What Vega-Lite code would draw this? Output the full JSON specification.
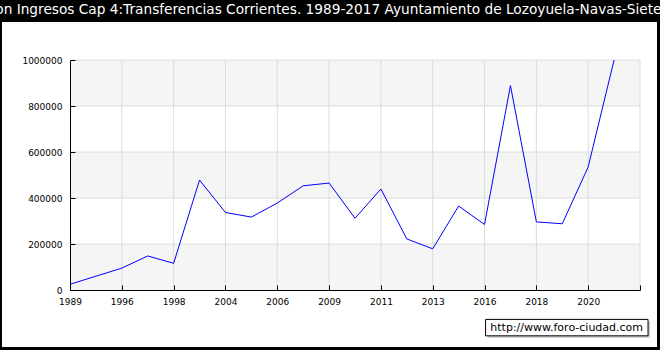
{
  "$schema": "https://vega.github.io/schema/vega-lite/v6.json",
  "autosize": {"type": "none"},
  "width": 655,
  "height": 325,
  "padding": {"left": 2, "top": 22, "right": 3, "bottom": 3},
  "background": "black",
  "config": {"view": {"fill": "white", "stroke": null}, "font": "DejaVu Sans"},
  "title": {
    "text": "Evolucion Ingresos Cap 4:Transferencias Corrientes. 1989-2017 Ayuntamiento de Lozoyuela-Navas-Sieteiglesias",
    "color": "white",
    "fontSize": 13.7,
    "fontWeight": "normal",
    "font": "DejaVu Sans",
    "anchor": "middle",
    "offset": 5
  },
  "datasets": {
    "series": [
      {"i": 0, "year": 1989, "value": 25000},
      {"i": 1, "year": 1995, "value": 60000},
      {"i": 2, "year": 1996, "value": 95000},
      {"i": 3, "year": 1997, "value": 148000},
      {"i": 4, "year": 1998, "value": 116000},
      {"i": 5, "year": 2003, "value": 478000},
      {"i": 6, "year": 2004, "value": 337000},
      {"i": 7, "year": 2005, "value": 317000},
      {"i": 8, "year": 2006, "value": 378000},
      {"i": 9, "year": 2008, "value": 453000},
      {"i": 10, "year": 2009, "value": 465000},
      {"i": 11, "year": 2010, "value": 312000},
      {"i": 12, "year": 2011, "value": 439000},
      {"i": 13, "year": 2012, "value": 222000},
      {"i": 14, "year": 2013, "value": 179000},
      {"i": 15, "year": 2015, "value": 365000},
      {"i": 16, "year": 2016, "value": 285000},
      {"i": 17, "year": 2017, "value": 889000},
      {"i": 18, "year": 2018, "value": 296000},
      {"i": 19, "year": 2019, "value": 288000},
      {"i": 20, "year": 2020, "value": 535000},
      {"i": 21, "year": 2021, "value": 1000000}
    ],
    "bands": [
      {"lo": 0, "hi": 200000},
      {"lo": 400000, "hi": 600000},
      {"lo": 800000, "hi": 1000000}
    ],
    "vgrid": [
      {"g": 2}, {"g": 4}, {"g": 6}, {"g": 8}, {"g": 10}, {"g": 12},
      {"g": 14}, {"g": 16}, {"g": 18}, {"g": 20}, {"g": 22}
    ],
    "hgrid": [
      {"v": 200000}, {"v": 400000}, {"v": 600000}, {"v": 800000}, {"v": 1000000}
    ],
    "credit": [{"label": "http://www.foro-ciudad.com"}]
  },
  "layer": [
    {
      "data": {"name": "bands"},
      "mark": {"type": "rect", "fill": "#f5f5f5"},
      "encoding": {
        "x": {
          "datum": 0,
          "type": "quantitative",
          "scale": {"domain": [0, 22], "range": [68, 638], "nice": false, "zero": false},
          "axis": {
            "orient": "bottom",
            "offset": -57,
            "values": [0, 2, 4, 6, 8, 10, 12, 14, 16, 18, 20, 22],
            "labelExpr": "['1989','1996','1998','2004','2006','2009','2011','2013','2016','2018','2020',''][datum.value/2]",
            "title": null,
            "grid": false,
            "domainColor": "black",
            "tickColor": "black",
            "tickSize": -5,
            "labelFont": "DejaVu Sans",
            "labelFontSize": 9,
            "labelColor": "black",
            "labelPadding": 12,
            "labelFlush": false,
            "labelOverlap": false,
            "zindex": 1
          }
        },
        "x2": {"datum": 22},
        "y": {
          "field": "lo",
          "type": "quantitative",
          "scale": {"domain": [0, 1000000], "range": [268, 38], "nice": false},
          "axis": {
            "orient": "left",
            "offset": -68,
            "values": [0, 100000, 200000, 300000, 400000, 500000, 600000, 700000, 800000, 900000, 1000000],
            "format": "d",
            "labelExpr": "datum.value % 200000 == 0 ? datum.label : ''",
            "title": null,
            "grid": false,
            "domainColor": "black",
            "tickColor": "black",
            "tickSize": -5,
            "labelFont": "DejaVu Sans",
            "labelFontSize": 9,
            "labelColor": "black",
            "labelPadding": 13,
            "labelOverlap": false,
            "zindex": 1
          }
        },
        "y2": {"field": "hi"}
      }
    },
    {
      "data": {"name": "vgrid"},
      "mark": {"type": "rule", "color": "#dcdcdc", "strokeWidth": 1},
      "encoding": {
        "x": {"field": "g", "type": "quantitative"},
        "y": {"datum": 0, "type": "quantitative"},
        "y2": {"datum": 1000000}
      }
    },
    {
      "data": {"name": "hgrid"},
      "mark": {"type": "rule", "color": "#dcdcdc", "strokeWidth": 1},
      "encoding": {
        "y": {"field": "v", "type": "quantitative"},
        "x": {"datum": 0, "type": "quantitative"},
        "x2": {"datum": 22}
      }
    },
    {
      "data": {"name": "series"},
      "mark": {"type": "line", "color": "#0000ff", "strokeWidth": 1},
      "encoding": {
        "x": {"field": "i", "type": "quantitative"},
        "y": {"field": "value", "type": "quantitative"}
      }
    },
    {
      "data": {"name": "credit"},
      "mark": {"type": "rect", "fill": "#cccccc"},
      "encoding": {
        "x": {"datum": 16.12, "type": "quantitative"},
        "x2": {"datum": 22.39},
        "y": {"datum": -136500, "type": "quantitative"},
        "y2": {"datum": -208000}
      }
    },
    {
      "data": {"name": "credit"},
      "mark": {"type": "rect", "fill": "white", "stroke": "black", "strokeWidth": 1},
      "encoding": {
        "x": {"datum": 16.04, "type": "quantitative"},
        "x2": {"datum": 22.31},
        "y": {"datum": -127800, "type": "quantitative"},
        "y2": {"datum": -199300}
      }
    },
    {
      "data": {"name": "credit"},
      "mark": {"type": "text", "font": "DejaVu Sans", "fontSize": 11, "color": "black", "align": "center", "baseline": "middle"},
      "encoding": {
        "x": {"datum": 19.17, "type": "quantitative"},
        "y": {"datum": -163500, "type": "quantitative"},
        "text": {"field": "label"}
      }
    }
  ]
}
